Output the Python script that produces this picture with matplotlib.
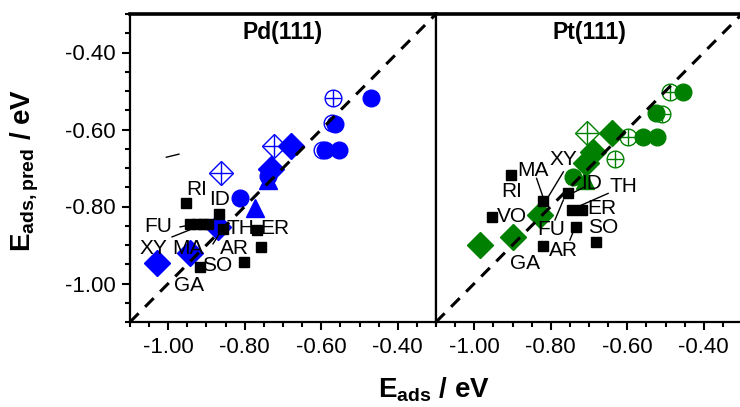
import matplotlib
matplotlib.use("Agg")
import matplotlib.pyplot as plt
from matplotlib.ticker import MultipleLocator, FixedLocator

plt.rcParams["font.family"] = ["Liberation Sans", "DejaVu Sans"]
plt.rcParams["mathtext.fontset"] = "custom"
plt.rcParams["mathtext.rm"] = "Liberation Sans:bold"
plt.rcParams["mathtext.bf"] = "Liberation Sans:bold"

# --- Pd(111) data (x = E_ads, y = E_ads,pred) ---
pd_circ_x = [-0.471, -0.564, -0.590, -0.553, -0.812, -0.740]
pd_circ_y = [-0.517, -0.586, -0.653, -0.653, -0.779, -0.720]
pd_open_x = [-0.573, -0.599]
pd_open_y = [-0.583, -0.653]
pd_ocross_x = [-0.568]
pd_ocross_y = [-0.517]
pd_dcross_x = [-0.724, -0.862]
pd_dcross_y = [-0.643, -0.714]
pd_diam_x = [-0.679, -0.731, -0.869, -0.943, -1.030]
pd_diam_y = [-0.643, -0.703, -0.852, -0.921, -0.947]
pd_tri_x = [-0.739, -0.773]
pd_tri_y = [-0.731, -0.805]
pd_sq_x = [-0.954, -0.867, -0.943, -0.926, -0.908, -0.895, -0.856, -0.767, -0.758, -0.917, -0.802]
pd_sq_y = [-0.792, -0.819, -0.845, -0.845, -0.845, -0.845, -0.859, -0.861, -0.904, -0.956, -0.945]
pd_lab = ["RI", "ID", "FU", "TH", "ER", "XY", "MA", "AR", "SO", "GA"]
pd_lab_x = [-0.926, -0.865, -1.026, -0.810, -0.721, -1.039, -0.948, -0.826, -0.873, -0.945]
pd_lab_y = [-0.757, -0.783, -0.852, -0.857, -0.857, -0.908, -0.908, -0.910, -0.954, -1.004]
pd_lines = [((-1.005, -0.972), (-0.672, -0.664)),
            ((-0.969, -0.943), (-0.853, -0.848)),
            ((-0.990, -0.904), (-0.879, -0.845)),
            ((-0.883, -0.860), (-0.897, -0.861))]

# --- Pt(111) data ---
pt_circ_x = [-0.454, -0.525, -0.558, -0.523, -0.741]
pt_circ_y = [-0.502, -0.558, -0.619, -0.619, -0.723]
pt_ocross_x = [-0.488, -0.509, -0.597, -0.632]
pt_ocross_y = [-0.502, -0.560, -0.619, -0.677]
pt_dcross_x = [-0.706]
pt_dcross_y = [-0.608]
pt_diam_x = [-0.641, -0.689, -0.708, -0.828, -0.898, -0.985]
pt_diam_y = [-0.608, -0.658, -0.687, -0.822, -0.878, -0.900]
pt_tri_x = [-0.710]
pt_tri_y = [-0.731]
pt_sq_x = [-0.904, -0.954, -0.820, -0.754, -0.745, -0.719, -0.735, -0.820, -0.683]
pt_sq_y = [-0.718, -0.826, -0.787, -0.766, -0.809, -0.809, -0.852, -0.903, -0.891]
pt_lab = ["MA", "XY", "RI", "ID", "TH", "ER", "VO", "FU", "SO", "AR", "GA"]
pt_lab_x = [-0.846, -0.767, -0.902, -0.693, -0.610, -0.667, -0.902, -0.798, -0.663, -0.767, -0.867]
pt_lab_y = [-0.707, -0.679, -0.761, -0.740, -0.749, -0.806, -0.826, -0.859, -0.855, -0.913, -0.949]
pt_lines = [((-0.837, -0.819), (-0.727, -0.779)),
            ((-0.767, -0.806), (-0.710, -0.774)),
            ((-0.711, -0.745), (-0.749, -0.766)),
            ((-0.650, -0.728), (-0.766, -0.800)),
            ((-0.789, -0.767), (-0.835, -0.783)),
            ((-0.750, -0.741), (-0.887, -0.865))]

LIM = (-1.10, -0.30)
TICKS = [-1.0, -0.8, -0.6, -0.4]

fig = plt.figure(figsize=(7.4, 4.07), dpi=100)
ax1 = fig.add_axes([130 / 740, 1 - 322 / 407, 306 / 740, 308 / 407])
ax2 = fig.add_axes([436 / 740, 1 - 322 / 407, 306 / 740, 308 / 407])


def draw_panel(ax, col, title, circ, opn, ocross, dcross, diam, tri, sq, labs, lines):
    ax.plot(LIM, LIM, color="black", lw=2.2, ls=(0, (4, 3)), zorder=6)
    if opn is not None:
        ax.plot(opn[0], opn[1], ls="none", marker="o", ms=12, mfc="white", mec=col, mew=1.0, zorder=3)
    ax.plot(ocross[0], ocross[1], ls="none", marker="o", ms=12, mfc="white", mec=col, mew=1.0, zorder=3)
    ax.plot(ocross[0], ocross[1], ls="none", marker="+", ms=12, mec=col, mew=1.0, zorder=3)
    ax.plot(dcross[0], dcross[1], ls="none", marker="D", ms=12, mfc="white", mec=col, mew=1.0, zorder=3)
    ax.plot(dcross[0], dcross[1], ls="none", marker="+", ms=16.5, mec=col, mew=1.0, zorder=3)
    ax.plot(circ[0], circ[1], ls="none", marker="o", ms=12, color=col, zorder=4)
    ax.plot(diam[0], diam[1], ls="none", marker="D", ms=13, color=col, zorder=4)
    ax.plot(tri[0], tri[1], ls="none", marker="^", ms=13, color=col, zorder=4)
    ax.plot(sq[0], sq[1], ls="none", marker="s", ms=7.5, color="black", zorder=5)
    for t, x, y in zip(*labs):
        ax.text(x, y, t, fontsize=15, ha="center", va="center", zorder=7)
    for xs, ys in lines:
        ax.plot(xs, ys, color="black", lw=1.0, zorder=5)
    ax.text(0.5, 0.94, title, transform=ax.transAxes, fontsize=16.5, fontweight="bold",
            ha="center", va="center")
    ax.set_xlim(LIM)
    ax.set_ylim(LIM)
    for s in ax.spines.values():
        s.set_linewidth(1.6)
    ax.spines["top"].set_linewidth(2.6)
    ax.xaxis.set_major_locator(FixedLocator(TICKS))
    ax.xaxis.set_minor_locator(MultipleLocator(0.05))
    ax.tick_params(axis="x", which="major", direction="out", length=6, width=1.5, labelsize=16, pad=5)
    ax.tick_params(axis="x", which="minor", direction="out", length=3.5, width=1.5)
    ax.xaxis.set_major_formatter(plt.FuncFormatter(lambda v, p: f"{v:.2f}"))
    ax.tick_params(top=False, right=False)


draw_panel(ax1, "#0000ff", "Pd(111)",
           (pd_circ_x, pd_circ_y), (pd_open_x, pd_open_y), (pd_ocross_x, pd_ocross_y),
           (pd_dcross_x, pd_dcross_y), (pd_diam_x, pd_diam_y), (pd_tri_x, pd_tri_y),
           (pd_sq_x, pd_sq_y), (pd_lab, pd_lab_x, pd_lab_y), pd_lines)
draw_panel(ax2, "#008000", "Pt(111)",
           (pt_circ_x, pt_circ_y), None, (pt_ocross_x, pt_ocross_y),
           (pt_dcross_x, pt_dcross_y), (pt_diam_x, pt_diam_y), (pt_tri_x, pt_tri_y),
           (pt_sq_x, pt_sq_y), (pt_lab, pt_lab_x, pt_lab_y), pt_lines)

ax1.yaxis.set_major_locator(FixedLocator(TICKS))
ax1.yaxis.set_minor_locator(MultipleLocator(0.05))
ax1.yaxis.set_major_formatter(plt.FuncFormatter(lambda v, p: f"{v:.2f}"))
ax1.tick_params(axis="y", which="major", direction="out", length=6, width=1.5, labelsize=16, pad=4)
ax1.tick_params(axis="y", which="minor", direction="out", length=3.5, width=1.5)
ax2.tick_params(axis="y", which="both", left=False, labelleft=False)

fig.text(25 / 740, 1 - 170 / 407, r"$\mathbf{E}_{\mathbf{ads,pred}}$ / eV", rotation=90,
         fontsize=20, fontweight="bold", ha="center", va="center")
fig.text(434 / 740, 1 - 390 / 407, r"$\mathbf{E}_{\mathbf{ads}}$ / eV",
         fontsize=20, fontweight="bold", ha="center", va="center")

fig.savefig("out.png", dpi=100)
